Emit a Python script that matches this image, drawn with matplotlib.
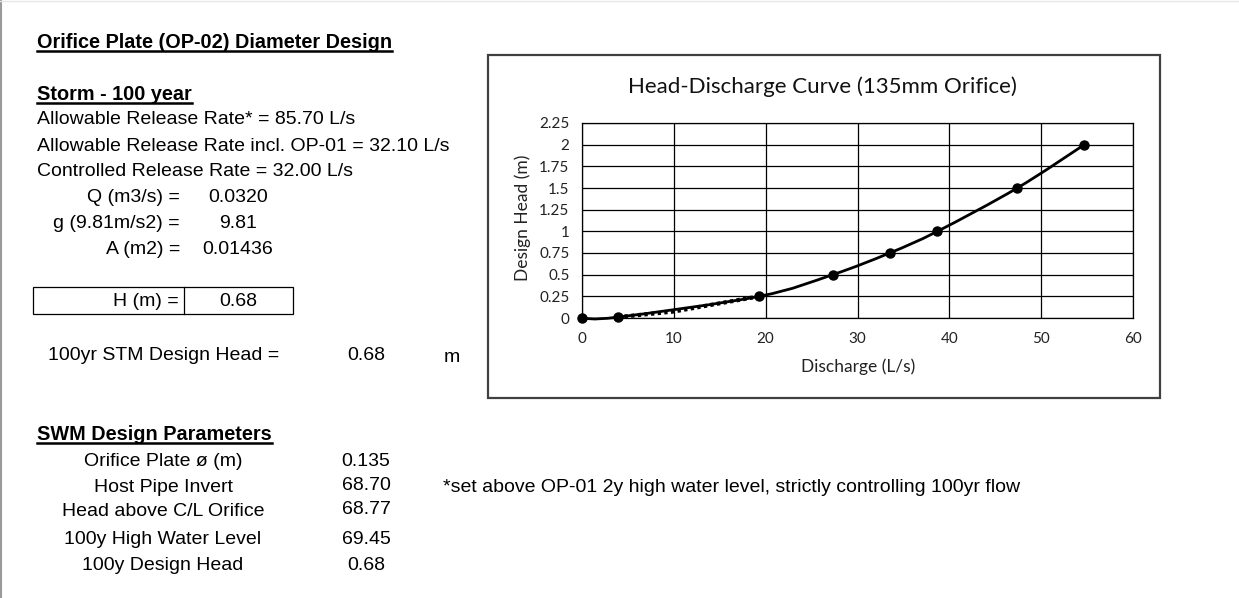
import numpy as np
import matplotlib.pyplot as plt
from matplotlib.path import Path
from matplotlib.patches import PathPatch, Rectangle
from matplotlib.lines import Line2D

W, H = 1239, 598

# head-discharge points
discharge = [0, 3.9, 19.3, 27.3, 33.5, 38.7, 47.4, 54.7]
head = [0, 0.01, 0.25, 0.5, 0.75, 1.0, 1.5, 2.0]
# short dotted series under the first part of the curve
dotted_q = [3.9, 10, 19.3]
dotted_h = [0.01, 0.075, 0.25]

x_ticks = [0, 10, 20, 30, 40, 50, 60]
y_ticks = [0, 0.25, 0.5, 0.75, 1, 1.25, 1.5, 1.75, 2, 2.25]

storm_lines = ["Allowable Release Rate* = 85.70 L/s",
               "Allowable Release Rate incl. OP-01 = 32.10 L/s",
               "Controlled Release Rate = 32.00 L/s"]
calc_labels = ["Q (m3/s) =", "g (9.81m/s2) =", "A (m2) ="]
calc_values = ["0.0320", "9.81", "0.01436"]
swm_labels = ["Orifice Plate ø (m)", "Host Pipe Invert", "Head above C/L Orifice",
              "100y High Water Level", "100y Design Head"]
swm_values = ["0.135", "68.70", "68.77", "69.45", "0.68"]
note = "*set above OP-01 2y high water level, strictly controlling 100yr flow"

SHEET = "Liberation Sans"
CHART = "Lato"
FS = 14


def fx(px):
    return px / W


def fy(py):
    # text sits a touch high with va=center, nudge it down
    return 1 - py / H


def ty(py):
    return fy(py + 2)


def smooth_path(xs, ys):
    # catmull-rom style bezier, like the "smoothed line" option in a spreadsheet
    p = np.column_stack([xs, ys]).astype(float)
    verts = [p[0]]
    codes = [Path.MOVETO]
    n = len(p)
    for i in range(n - 1):
        p0 = p[i - 1] if i > 0 else p[i]
        p3 = p[i + 2] if i + 2 < n else p[i + 1]
        c1 = p[i] + (p[i + 1] - p0) / 6
        c2 = p[i + 1] - (p3 - p[i]) / 6
        verts += [c1, c2, p[i + 1]]
        codes += [Path.CURVE4] * 3
    return Path(verts, codes)


fig = plt.figure(figsize=(W / 100, H / 100), dpi=100)
fig.patch.set_facecolor("white")

# sheet edges
fig.add_artist(Line2D([fx(1), fx(1)], [0, 1], color="#9a9a9a", lw=1.5))
fig.add_artist(Line2D([0, 1], [fy(0.5), fy(0.5)], color="#e6e6e6", lw=1))

# chart frame
fig.add_artist(Rectangle((fx(488), fy(398)), fx(1160) - fx(488), fy(55) - fy(398),
                         fill=False, edgecolor="#404040", lw=1.6, transform=fig.transFigure))

ax = fig.add_axes([fx(582), fy(318), fx(1133) - fx(582), fy(123) - fy(318)])
ax.set_xlim(0, 60)
ax.set_ylim(0, 2.25)
ax.set_xticks(x_ticks)
ax.set_yticks(y_ticks)
ax.set_yticklabels(["{:g}".format(v) for v in y_ticks])
ax.grid(True, color="black", lw=0.9)
ax.set_axisbelow(True)
ax.tick_params(length=0, labelsize=11)
ax.tick_params(axis="x", pad=10)
ax.tick_params(axis="y", pad=9)
for lab in ax.get_xticklabels() + ax.get_yticklabels():
    lab.set_fontfamily(CHART)
    lab.set_color("#222222")
for sp in ax.spines.values():
    sp.set_color("black")
    sp.set_linewidth(0.9)

ax.add_patch(PathPatch(smooth_path(discharge, head), fill=False, edgecolor="black",
                       lw=2, clip_on=False, zorder=3))
ax.plot(dotted_q, dotted_h, color="black", lw=3, ls=(0, (0.8, 0.8)), zorder=3)
ax.plot(discharge, head, ls="none", marker="o", ms=6.5, color="black", clip_on=False, zorder=4)

fig.text(fx(858), fy(367), "Discharge (L/s)", fontfamily=CHART, fontsize=12.5,
         ha="center", va="center", color="#222222")
fig.text(fx(523), fy(218), "Design Head (m)", fontfamily=CHART, fontsize=12.5,
         ha="center", va="center", rotation=90, color="#222222")
fig.text(fx(822), fy(87), "Head-Discharge Curve (135mm Orifice)", fontfamily=CHART,
         fontsize=16, ha="center", va="center", color="#111111")

# left hand worksheet text
underlined = []
underlined.append(fig.text(fx(37), ty(40), "Orifice Plate (OP-02) Diameter Design",
                           fontfamily=SHEET, fontsize=14.3, fontweight="bold", va="center"))
underlined.append(fig.text(fx(37), ty(92), "Storm - 100 year",
                           fontfamily=SHEET, fontsize=14.3, fontweight="bold", va="center"))
for i, s in enumerate(storm_lines):
    fig.text(fx(37), ty(118 + 26 * i), s, fontfamily=SHEET, fontsize=FS, va="center")
for i, (lab, val) in enumerate(zip(calc_labels, calc_values)):
    y = ty(196 + 25.5 * i)
    fig.text(fx(180), y, lab, fontfamily=SHEET, fontsize=FS, ha="right", va="center")
    fig.text(fx(238), y, val, fontfamily=SHEET, fontsize=FS, ha="center", va="center")

fig.add_artist(Rectangle((fx(33), fy(314)), fx(293) - fx(33), fy(287) - fy(314),
                         fill=False, edgecolor="black", lw=0.9, transform=fig.transFigure))
fig.add_artist(Line2D([fx(184), fx(184)], [fy(314), fy(287)], color="black", lw=0.9))
fig.text(fx(179), ty(300), "H (m) =", fontfamily=SHEET, fontsize=FS, ha="right", va="center")
fig.text(fx(238), ty(300), "0.68", fontfamily=SHEET, fontsize=FS, ha="center", va="center")

fig.text(fx(48), ty(354), "100yr STM Design Head =", fontfamily=SHEET, fontsize=FS, va="center")
fig.text(fx(366), ty(354), "0.68", fontfamily=SHEET, fontsize=FS, ha="center", va="center")
fig.text(fx(452), ty(356), "m", fontfamily=SHEET, fontsize=FS, ha="center", va="center")

underlined.append(fig.text(fx(37), ty(432), "SWM Design Parameters",
                           fontfamily=SHEET, fontsize=14.3, fontweight="bold", va="center"))
swm_y = [459, 485, 510, 537, 564]
val_y = [459, 484, 508, 538, 564]
for lab, val, ly, vy in zip(swm_labels, swm_values, swm_y, val_y):
    fig.text(fx(163), ty(ly), lab, fontfamily=SHEET, fontsize=FS, ha="center", va="center")
    fig.text(fx(366), ty(vy), val, fontfamily=SHEET, fontsize=FS, ha="center", va="center")
fig.text(fx(443), ty(485), note, fontfamily=SHEET, fontsize=FS, va="center")

# underline the bold headings
fig.canvas.draw()
renderer = fig.canvas.get_renderer()
for t in underlined:
    bb = t.get_window_extent(renderer)
    y = (bb.y0 + 0.5) / H
    fig.add_artist(Line2D([bb.x0 / W, bb.x1 / W], [y, y], color="black", lw=1.8))

fig.savefig("out.png", dpi=100, facecolor="white")
